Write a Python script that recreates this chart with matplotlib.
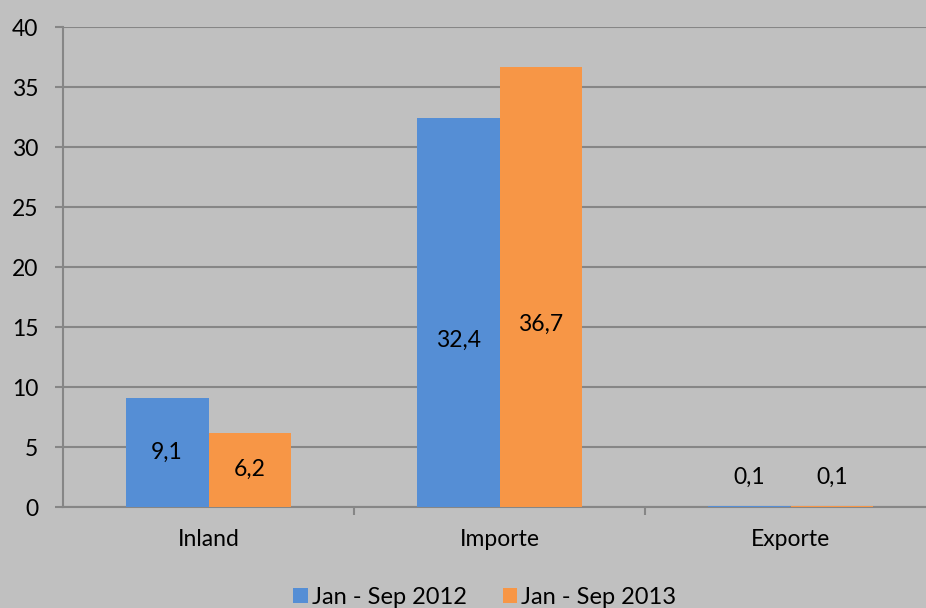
import matplotlib
matplotlib.use("Agg")
import matplotlib.pyplot as plt
import numpy as np

# Data
categories = ["Inland", "Importe", "Exporte"]
series_names = ["Jan - Sep 2012", "Jan - Sep 2013"]
values_2012 = [9.1, 32.4, 0.1]
values_2013 = [6.2, 36.7, 0.1]
labels_2012 = ["9,1", "32,4", "0,1"]
labels_2013 = ["6,2", "36,7", "0,1"]
# where the data labels sit (y value) as in the picture
label_y_2012 = [4.55, 13.9, 2.5]
label_y_2013 = [3.1, 15.2, 2.5]

BG = "#c0c0c0"
GRID = "#868686"
BLUE = "#558ed5"
ORANGE = "#f79646"
FS = 16.5

plt.rcParams["font.family"] = ["Lato", "DejaVu Sans"]

fig = plt.figure(figsize=(9.26, 6.08), dpi=100)
fig.patch.set_facecolor(BG)
# the plot area runs off the right edge of the picture
ax = fig.add_axes([63 / 926, 101 / 608, 873 / 926, 480 / 608])
ax.set_facecolor(BG)

x = np.arange(len(categories))
w = 0.285
b1 = ax.bar(x - w / 2, values_2012, w, color=BLUE, label=series_names[0], zorder=3)
b2 = ax.bar(x + w / 2, values_2013, w, color=ORANGE, label=series_names[1], zorder=3)

for i in range(len(categories)):
    ax.text(x[i] - w / 2, label_y_2012[i], labels_2012[i], ha="center", va="center",
            fontsize=FS, color="black", zorder=4)
    ax.text(x[i] + w / 2, label_y_2013[i], labels_2013[i], ha="center", va="center",
            fontsize=FS, color="black", zorder=4)

ax.set_xlim(-0.5, 2.5)
ax.set_ylim(0, 40)
ax.set_yticks(range(0, 41, 5))
ax.tick_params(axis="y", labelsize=FS, length=5.8, width=1.5, color=GRID, pad=12)
ax.set_xticks(x)
ax.set_xticklabels(categories)
ax.set_xticks([0.5, 1.5], minor=True)
ax.tick_params(axis="x", which="major", length=0, labelsize=FS, pad=16)
ax.tick_params(axis="x", which="minor", length=5.8, width=1.5, color=GRID)

ax.yaxis.grid(True, color=GRID, linewidth=1.5, zorder=0)
ax.set_axisbelow(True)
for side in ["top", "right"]:
    ax.spines[side].set_visible(False)
for side in ["left", "bottom"]:
    ax.spines[side].set_color(GRID)
    ax.spines[side].set_linewidth(1.5)

fig.legend(handles=[b1, b2], loc="center", bbox_to_anchor=(485 / 926, 1 - 597 / 608),
           ncol=2, frameon=False, fontsize=17, handlelength=0.6, handleheight=0.6,
           handletextpad=0.2, columnspacing=1.5, borderpad=0)

fig.savefig("out.png", dpi=100, facecolor=BG)
